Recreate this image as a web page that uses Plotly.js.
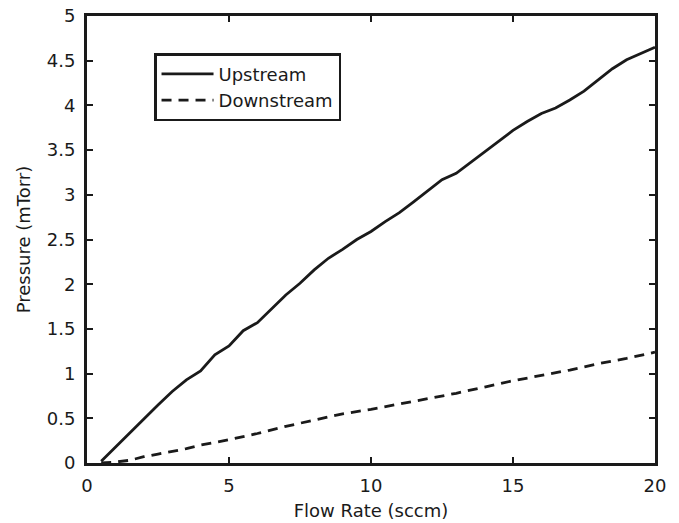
<!DOCTYPE html>
<html>
<head>
<meta charset="utf-8">
<script src="https://cdn.plot.ly/plotly-3.0.1.min.js"></script>
<style>html,body{margin:0;padding:0;background:#fff;}#chart{width:679px;height:523px;}</style>
</head>
<body>
<div id="chart"></div>
<script>
const upFlow = [0.5,1,1.5,2,2.5,3,3.5,4,4.5,5,5.5,6,6.5,7,7.5,8,8.5,9,9.5,10,10.5,11,11.5,12,12.5,13,13.5,14,14.5,15,15.5,16,16.5,17,17.5,18,18.5,19,19.5,20];
const upPressure = [0.02,0.18,0.34,0.5,0.65,0.8,0.93,1.03,1.21,1.31,1.48,1.57,1.73,1.88,2.01,2.16,2.29,2.39,2.5,2.59,2.7,2.8,2.92,3.04,3.17,3.24,3.36,3.49,3.61,3.72,3.82,3.91,3.97,4.06,4.16,4.29,4.41,4.51,4.58,4.65];
const downFlow = [0.5,1,1.5,2,2.5,3,3.5,4,5,6,7,8,9,10,11,12,13,14,15,16,17,18,19,20];
const downPressure = [0.0,0.01,0.03,0.07,0.1,0.13,0.16,0.2,0.26,0.33,0.41,0.48,0.55,0.6,0.66,0.72,0.78,0.85,0.92,0.98,1.04,1.11,1.17,1.24];
const xTicks = [0,5,10,15,20];
const yTicks = [0,0.5,1,1.5,2,2.5,3,3.5,4,4.5,5];

const ink = '#1a1a1a';
const font = 'DejaVu Sans, Arial, sans-serif';

const data = [
  {x: upFlow, y: upPressure, type: 'scatter', mode: 'lines', name: 'Upstream',
   line: {color: ink, width: 2.8}},
  {x: downFlow, y: downPressure, type: 'scatter', mode: 'lines', name: 'Downstream',
   line: {color: ink, width: 2.8, dash: '10px,7px'}}
];

const axisCommon = {
  showline: true, linecolor: ink, linewidth: 3, mirror: 'ticks',
  ticks: 'inside', ticklen: 6, tickwidth: 2, tickcolor: ink,
  showgrid: false, zeroline: false,
  tickfont: {family: font, size: 18, color: ink}
};

const layout = {
  width: 679, height: 523,
  margin: {l: 87, r: 24, t: 16, b: 60},
  paper_bgcolor: '#fff', plot_bgcolor: '#fff',
  showlegend: true,
  legend: {x: 0.118, y: 0.917, xanchor: 'left', yanchor: 'top',
    bordercolor: ink, borderwidth: 2.5, bgcolor: '#fff',
    font: {family: font, size: 18, color: ink}, itemwidth: 52},
  xaxis: Object.assign({}, axisCommon, {
    range: [0, 20], tickvals: xTicks, ticktext: xTicks.map(String),
    ticklabelstandoff: 4,
    title: {text: 'Flow Rate (sccm)', font: {family: font, size: 18, color: ink}, standoff: 10}
  }),
  yaxis: Object.assign({}, axisCommon, {
    range: [0, 5], tickvals: yTicks, ticktext: yTicks.map(String),
    ticklabelstandoff: 5,
    title: {text: 'Pressure (mTorr)', font: {family: font, size: 18, color: ink}, standoff: 12}
  })
};

Plotly.newPlot('chart', data, layout, {displayModeBar: false, staticPlot: true});
</script>
</body>
</html>
